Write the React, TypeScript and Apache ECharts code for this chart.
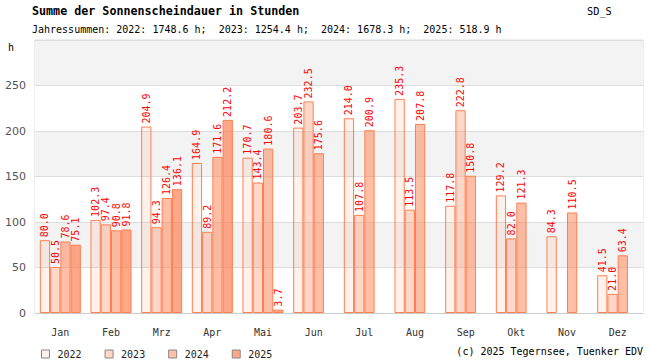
import React, { useEffect, useRef } from "react";
import * as echarts from "echarts";

const months = ["Jan", "Feb", "Mrz", "Apr", "Mai", "Jun", "Jul", "Aug", "Sep", "Okt", "Nov", "Dez"];
const years = ["2022", "2023", "2024", "2025"];
const v2022 = [80.0, 102.3, 204.9, 164.9, 170.7, 203.7, 214.0, 235.3, 117.8, 129.2, 84.3, 41.5];
const v2023 = [50.5, 97.4, 94.3, 89.2, 143.4, 232.5, 107.8, 113.5, 222.8, 82.0, null, 21.0];
const v2024 = [78.6, 90.8, 126.4, 171.6, 180.6, 175.6, 200.9, 207.8, 150.8, 121.3, 110.5, 63.4];
const v2025 = [75.1, 91.8, 136.1, 212.2, 3.7, null, null, null, null, null, null, null];
const yTicks = [0, 50, 100, 150, 200, 250, 300];
const titleText = "Summe der Sonnenscheindauer in Stunden";
const subText = "Jahressummen: 2022: 1748.6 h;  2023: 1254.4 h;  2024: 1678.3 h;  2025: 518.9 h";
const codeText = "SD_S";
const copyText = "(c) 2025 Tegernsee, Tuenker EDV";
const unitText = "h";

const seriesValues = [v2022, v2023, v2024, v2025];
const fills = [
  "rgba(255,127,80,0.1)",
  "rgba(255,127,80,0.3)",
  "rgba(255,127,80,0.5)",
  "rgba(255,127,80,0.68)",
];
const mono = "'DejaVu Sans Mono', 'Liberation Mono', monospace";

export default function App() {
  const ref = useRef<HTMLDivElement>(null);
  useEffect(() => {
    if (!ref.current) return;
    const chart = echarts.init(ref.current, null, { renderer: "svg" });
    chart.setOption({
      animation: false,
      backgroundColor: "#fff",
      grid: { left: 35, right: 7, top: 40, bottom: 47, show: true, borderColor: "#ddd", borderWidth: 1 },
      legend: {
        left: 41,
        top: 349,
        itemWidth: 8,
        itemHeight: 8,
        itemGap: 23,
        icon: "rect",
        data: years,
        itemStyle: { borderColor: "#888", borderWidth: 1 },
        textStyle: { fontFamily: mono, fontSize: 10, color: "#222", padding: [0, 0, 0, 3] },
        padding: 0,
      },
      xAxis: {
        type: "category",
        data: months,
        axisLine: { show: true, lineStyle: { color: "#ccc" } },
        axisTick: { show: false },
        axisLabel: { fontFamily: mono, fontSize: 10, color: "#333", margin: 14 },
      },
      yAxis: {
        type: "value",
        min: yTicks[0],
        max: yTicks[yTicks.length - 1],
        interval: 50,
        axisLine: { show: false },
        axisTick: { show: false },
        axisLabel: {
          fontFamily: "'DejaVu Sans', sans-serif",
          fontSize: 11,
          color: "#555",
          margin: 9,
          showMaxLabel: false,
        },
        splitLine: { show: true, lineStyle: { color: "#ddd" } },
        splitArea: { show: true, areaStyle: { color: ["#ffffff", "#f3f3f3"] } },
      },
      series: years.map((y, i) => ({
        name: y,
        type: "bar",
        data: seriesValues[i],
        barGap: "0%",
        barCategoryGap: "19%",
        itemStyle: { color: fills[i], borderColor: "#ff7f50", borderWidth: 1 },
        label: {
          show: true,
          position: "top",
          rotate: 90,
          align: "left",
          verticalAlign: "middle",
          distance: 3,
          color: "#ff0000",
          fontFamily: mono,
          fontSize: 10,
          formatter: (p: any) => (p.value == null ? "" : Number(p.value).toFixed(1)),
        },
      })),
      graphic: [
        {
          type: "text",
          left: 32,
          top: 5,
          style: { text: titleText, font: `bold 11.7px ${mono}`, fill: "#000" },
        },
        {
          type: "text",
          left: 32,
          top: 24,
          style: { text: subText, font: `10px ${mono}`, fill: "#000" },
        },
        {
          type: "text",
          left: 587,
          top: 6,
          style: { text: codeText, font: `10.3px ${mono}`, fill: "#000" },
        },
        {
          type: "text",
          left: 8,
          top: 42,
          style: { text: unitText, font: `10px ${mono}`, fill: "#000" },
        },
        {
          type: "text",
          right: 7,
          top: 346,
          style: { text: copyText, font: `10px ${mono}`, fill: "#000" },
        },
      ],
    });
    return () => chart.dispose();
  }, []);
  return <div ref={ref} style={{ width: 650, height: 360, position: "absolute", left: 0, top: 0 }} />;
}
